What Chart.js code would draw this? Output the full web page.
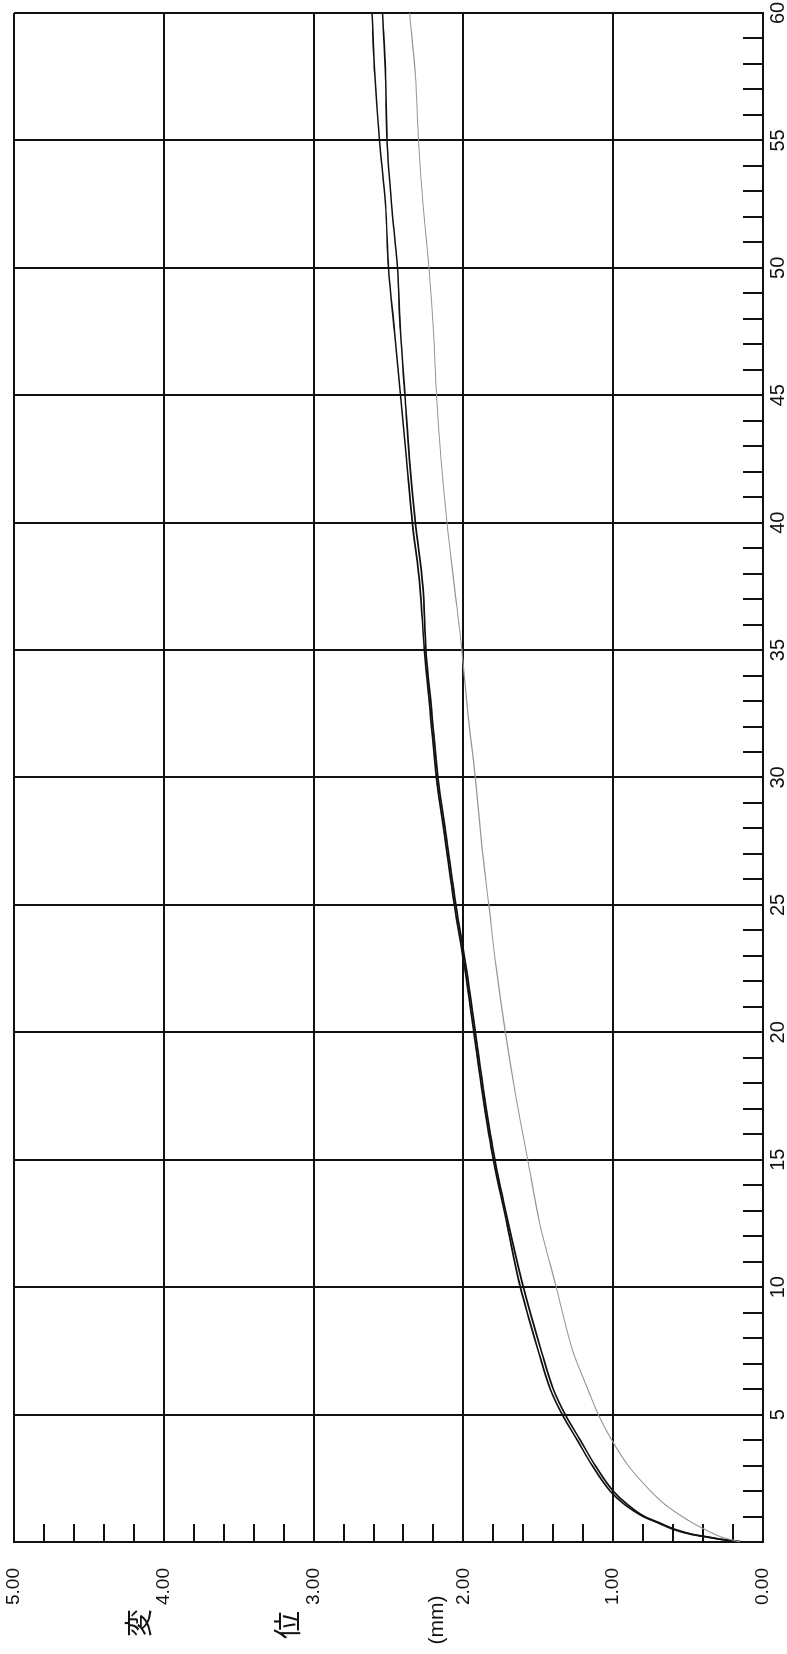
<!DOCTYPE html>
<html>
<head>
<meta charset="utf-8">
<script src="https://cdn.jsdelivr.net/npm/chart.js@4.4.1/dist/chart.umd.min.js"></script>
<style>
html,body{margin:0;padding:0;background:#fff;overflow:hidden;width:787px;height:1654px}
#wrap{position:absolute;left:0;top:0;width:1654px;height:787px;transform-origin:0 0;transform:translateY(1654px) rotate(-90deg);}
canvas{display:block}
</style>
</head>
<body>
<div id="wrap"><canvas id="c" width="1654" height="787"></canvas></div>
<script>
// time (s)
const times = [0, 0.1, 0.2, 0.3, 0.5, 0.75, 1, 1.5, 2, 3, 4, 5, 6, 7.5, 10, 12.5, 15, 17.5, 20, 22.5, 25, 27.5, 30, 32.5, 35, 37.5, 40, 42.5, 45, 47.5, 50, 52.5, 55, 57.5, 60];
// displacement (mm)
const darkA = [0.14, 0.28, 0.38, 0.48, 0.60, 0.70, 0.80, 0.93, 1.02, 1.14, 1.24, 1.34, 1.42, 1.50, 1.62, 1.71, 1.80, 1.87, 1.93, 1.99, 2.06, 2.12, 2.18, 2.22, 2.26, 2.29, 2.34, 2.38, 2.42, 2.46, 2.50, 2.52, 2.56, 2.59, 2.61];
const darkB = [0.13, 0.27, 0.37, 0.47, 0.59, 0.69, 0.79, 0.91, 1.00, 1.12, 1.22, 1.32, 1.40, 1.48, 1.60, 1.70, 1.79, 1.86, 1.92, 1.98, 2.05, 2.11, 2.17, 2.21, 2.25, 2.27, 2.32, 2.36, 2.39, 2.42, 2.44, 2.48, 2.51, 2.52, 2.54];
const grayLine = [0.15, 0.22, 0.28, 0.32, 0.39, 0.47, 0.54, 0.66, 0.75, 0.90, 1.01, 1.10, 1.17, 1.27, 1.38, 1.49, 1.57, 1.65, 1.72, 1.78, 1.83, 1.88, 1.92, 1.97, 2.01, 2.06, 2.11, 2.15, 2.18, 2.20, 2.23, 2.27, 2.30, 2.32, 2.36];
// axis title pieces
const titleParts = ['変', '位', '(mm)'];

const INK = '#111';

const minorTicks = {
  id: 'minorTicks',
  beforeDatasetsDraw(chart) {
    const {ctx, chartArea: a, scales: {x, y}} = chart;
    ctx.save();
    ctx.strokeStyle = INK;
    ctx.lineWidth = 2;
    ctx.beginPath();
    for (let t = 1; t < 60; t++) {
      if (t % 5 === 0) continue;
      const px = Math.round(x.getPixelForValue(t));
      ctx.moveTo(px, a.bottom);
      ctx.lineTo(px, a.bottom - 20);
    }
    for (let k = 1; k < 25; k++) {
      if (k % 5 === 0) continue;
      const py = Math.round(y.getPixelForValue(k / 5));
      ctx.moveTo(a.left, py);
      ctx.lineTo(a.left + 18, py);
    }
    ctx.stroke();
    ctx.restore();
  }
};

const yTitle = {
  id: 'yTitle',
  afterDraw(chart) {
    const {ctx, scales: {y}} = chart;
    ctx.save();
    ctx.fillStyle = INK;
    ctx.textAlign = 'center';
    ctx.textBaseline = 'middle';
    ctx.font = '28px "Noto Sans CJK JP"';
    ctx.fillText(titleParts[0], 31, y.getPixelForValue(4) - 25);
    ctx.fillText(titleParts[1], 29, y.getPixelForValue(3) - 26);
    ctx.font = '21px "Liberation Sans"';
    ctx.fillText(titleParts[2], 34, y.getPixelForValue(2) - 26);
    ctx.restore();
  }
};

const pts = arr => times.map((t, i) => ({x: t, y: arr[i]}));
const lineDs = (arr, color, w) => ({data: pts(arr), borderColor: color, borderWidth: w, pointRadius: 0,
  cubicInterpolationMode: 'monotone', fill: false});

new Chart(document.getElementById('c'), {
  type: 'line',
  data: {
    datasets: [
      lineDs(grayLine, '#959595', 1.1),
      lineDs(darkB, INK, 1.7),
      lineDs(darkA, INK, 1.7)
    ]
  },
  options: {
    responsive: false,
    devicePixelRatio: 1,
    animation: false,
    layout: {padding: {top: 14, right: 13, left: 0, bottom: 0}},
    plugins: {legend: {display: false}, tooltip: {enabled: false}},
    scales: {
      x: {
        type: 'linear', min: 0, max: 60,
        ticks: {stepSize: 5, autoSkip: false, maxRotation: 0, padding: 3, color: INK,
          font: {family: 'Liberation Sans', size: 20},
          callback: v => v === 0 ? '' : String(v)},
        grid: {color: INK, lineWidth: 2, drawTicks: false},
        border: {display: true, color: INK, width: 2},
        afterFit(s) { s.height = 24; s.paddingLeft = 0; s.paddingRight = 0; s.paddingTop = 0; s.paddingBottom = 0; }
      },
      y: {
        type: 'linear', min: 0, max: 5,
        ticks: {stepSize: 1, padding: 26, color: INK,
          font: {family: 'Liberation Sans', size: 19},
          callback: v => Number(v).toFixed(2)},
        grid: {color: INK, lineWidth: 2, drawTicks: false},
        border: {display: true, color: INK, width: 2},
        afterFit(s) { s.width = 112; s.paddingLeft = 0; s.paddingRight = 0; s.paddingTop = 0; s.paddingBottom = 0; }
      }
    }
  },
  plugins: [minorTicks, yTitle]
});
</script>
</body>
</html>
